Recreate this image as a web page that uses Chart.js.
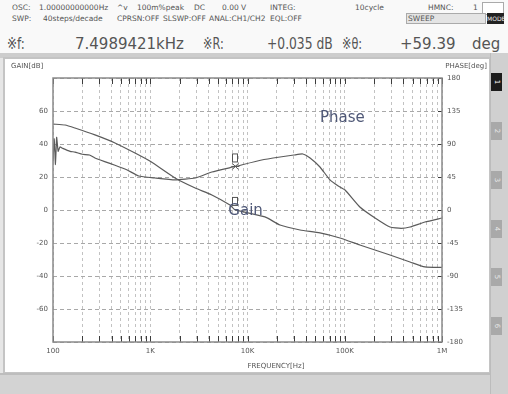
<!DOCTYPE html>
<html>
<head>
<meta charset="utf-8">
<script src="https://cdn.jsdelivr.net/npm/chart.js@4"></script>
<style>
html,body{margin:0;padding:0;}
body{width:508px;height:394px;position:relative;overflow:hidden;background:#e6e6e6;font-family:"DejaVu Sans",sans-serif;color:#5a5a5a;}
#head{position:absolute;left:0;top:0;width:508px;height:53px;background:#f9f9f9;}
#sep{position:absolute;left:0;top:53px;width:490px;height:5px;background:#cdcdcd;}
#panel{position:absolute;left:3px;top:57px;width:484px;height:313px;background:#fff;border:2px solid #c4c4c4;}
#side{position:absolute;left:490px;top:53px;width:18px;height:341px;background:#d0d0d0;border-left:1px solid #bcbcbc;box-sizing:border-box;}
#foot{position:absolute;left:0;top:373px;width:490px;height:21px;background:#d3d3d3;border-top:2px solid #bdbdbd;box-sizing:border-box;}
.t{position:absolute;white-space:nowrap;font-size:7.5px;line-height:10px;color:#555;}
.b{position:absolute;white-space:nowrap;font-size:15px;line-height:16px;color:#555;transform-origin:0 50%;}
.tab{position:absolute;left:491px;width:11px;height:18px;background:#a9a9a9;color:#e8e8e8;font-size:7px;}
.tab span{position:absolute;left:50%;top:50%;transform:translate(-50%,-50%) rotate(90deg);}
canvas{position:absolute;left:0;top:0;}
</style>
</head>
<body>
<div id="head"></div>
<div id="sep"></div>
<div id="panel"></div>
<div id="side"></div>
<div id="foot"></div>

<div class="t" style="left:12px;top:3px">OSC:</div>
<div class="t" style="left:39px;top:3px">1.00000000000Hz</div>
<div class="t" style="left:117px;top:3px">^v</div>
<div class="t" style="left:137px;top:3px">100m%peak</div>
<div class="t" style="left:194px;top:3px">DC</div>
<div class="t" style="left:222px;top:3px">0.00 V</div>
<div class="t" style="left:270px;top:3px">INTEG:</div>
<div class="t" style="left:355px;top:3px">10cycle</div>
<div class="t" style="left:428px;top:3px">HMNC:</div>
<div class="t" style="left:473px;top:3px">1</div>
<div style="position:absolute;left:482px;top:2px;width:20px;height:11px;background:#fff;border:1px solid #aaa;"></div>

<div class="t" style="left:12px;top:14px">SWP:</div>
<div class="t" style="left:43px;top:14px">40steps/decade</div>
<div class="t" style="left:117px;top:14px">CPRSN:OFF</div>
<div class="t" style="left:163px;top:14px">SLSWP:OFF</div>
<div class="t" style="left:209px;top:14px">ANAL:CH1/CH2</div>
<div class="t" style="left:270px;top:14px">EQL:OFF</div>
<div style="position:absolute;left:406px;top:13px;width:80px;height:11px;background:#e4e4e4;border:1px solid #aaa;box-sizing:border-box;"></div>
<div class="t" style="left:408px;top:14px">SWEEP</div>
<div class="t" style="left:487px;top:13px;width:17px;height:11px;background:#222;color:#eee;font-size:6px;line-height:11px;text-align:center;">MODE</div>

<div class="b" style="left:7px;top:36px;transform:scaleX(0.8)">※f:</div>
<div class="b" style="left:75px;top:36px">7.4989421kHz</div>
<div class="b" style="left:203px;top:36px;transform:scaleX(0.75)">※R:</div>
<div class="b" style="left:267px;top:36px;transform:scaleX(0.82)">+0.035 dB</div>
<div class="b" style="left:342px;top:36px;transform:scaleX(0.75)">※θ:</div>
<div class="b" style="left:400px;top:36px">+59.39</div>
<div class="b" style="left:472px;top:36px">deg</div>

<div class="tab" style="top:73px;background:#1c1c1c;color:#fff"><span>1</span></div>
<div class="tab" style="top:122px"><span>2</span></div>
<div class="tab" style="top:171px"><span>3</span></div>
<div class="tab" style="top:220px"><span>4</span></div>
<div class="tab" style="top:268px"><span>5</span></div>
<div class="tab" style="top:317px"><span>6</span></div>

<canvas id="c" width="508" height="394"></canvas>

<script>
// Frequency response sweep: gain (dB) and phase (deg) versus frequency (Hz)
const gainFreq = [100, 133, 168, 270, 434, 697, 1000, 1800, 2900, 4300, 6600, 7490, 15100, 21600, 34700, 55600, 89300, 143000, 292000, 469000, 668000, 1000000];
const gainDb   = [52.1, 51.5, 49.7, 45.5, 40.6, 34.5, 29.5, 19.4, 13.3, 9.1, 3.0, 0.035, -4.2, -9.1, -12.1, -13.9, -17.0, -21.2, -27.3, -31.5, -34.5, -34.8];

const phaseFreq = [100, 103, 106, 109, 113, 118, 126, 150, 168, 200, 237, 270, 340, 434, 580, 760, 1119, 1800, 2900, 4300, 7490, 14000, 21600, 30000, 37000, 44000, 55600, 70500, 85000, 100700, 143000, 205000, 292000, 380000, 469000, 668000, 1000000];
const phaseDeg  = [66, 97, 62, 99, 80, 86, 84, 80, 79, 76, 75, 71, 66, 61, 54.5, 46.4, 43.6, 41, 43.6, 51.8, 59.39, 68.2, 72.3, 75, 76.4, 70.9, 58.6, 41, 33, 27.3, 4.1, -10.9, -23.2, -25, -23.2, -16.4, -10.9];

// Cursor readout
const cursorFreq = 7498.9421;
const cursorGain = 0.035;
const cursorPhase = 59.39;

const freqTicks = [];
for (let d = 100; d < 1000000; d *= 10) {
  for (let m = 1; m <= 9; m++) freqTicks.push(d * m);
}
freqTicks.push(1000000);
const freqLabels = {100: '100', 1000: '1K', 10000: '10K', 100000: '100K', 1000000: '1M'};

const gainTicks = [-80, -60, -40, -20, 0, 20, 40, 60, 80];
const phaseTicks = [-180, -135, -90, -45, 0, 45, 90, 135, 180];

const lineColor = '#5b5b5b';
const tickFont = {family: 'DejaVu Sans', size: 7};

const decor = {
  id: 'decor',
  afterDatasetsDraw(chart) {
    const {ctx, chartArea: a, scales} = chart;
    const x = scales.x, y = scales.y, y1 = scales.y1;
    ctx.save();
    // inner tick marks on the frequency axis (top and bottom)
    ctx.strokeStyle = '#3c3c3c';
    ctx.lineWidth = 1;
    freqTicks.forEach(v => {
      const px = Math.round(x.getPixelForValue(v)) + 0.5;
      ctx.beginPath();
      ctx.moveTo(px, a.bottom); ctx.lineTo(px, a.bottom - 6);
      ctx.moveTo(px, a.top); ctx.lineTo(px, a.top + 6);
      ctx.stroke();
    });
    // inner tick marks on the phase axis
    phaseTicks.forEach(v => {
      const py = Math.round(y1.getPixelForValue(v)) + 0.5;
      ctx.beginPath();
      ctx.moveTo(a.right - 4, py); ctx.lineTo(a.right, py);
      ctx.stroke();
    });
    // plot frame
    ctx.strokeStyle = '#8a8a8a';
    ctx.lineWidth = 1.5;
    ctx.strokeRect(a.left, a.top, a.right - a.left, a.bottom - a.top);

    // cursor markers
    const cx = x.getPixelForValue(cursorFreq);
    const marks = [y1.getPixelForValue(cursorPhase), y.getPixelForValue(cursorGain)];
    ctx.strokeStyle = '#555';
    ctx.lineWidth = 1;
    marks.forEach((py, i) => {
      ctx.strokeRect(Math.round(cx) - 2.5, py - 12.5, 5, 8);
      if (i === 0) {
        ctx.beginPath();
        ctx.moveTo(cx - 3, py - 3); ctx.lineTo(cx + 3, py + 3);
        ctx.moveTo(cx + 3, py - 3); ctx.lineTo(cx - 3, py + 3);
        ctx.moveTo(cx - 4, py); ctx.lineTo(cx + 4, py);
        ctx.stroke();
      }
    });

    // curve names
    ctx.font = '15px "DejaVu Sans"';
    ctx.fillStyle = '#4f5877';
    ctx.textBaseline = 'middle';
    ctx.textAlign = 'left';
    ctx.fillText('Phase', 320, 118);
    ctx.fillText('Gain', cx - 7, marks[1] + 1);

    // axis titles
    ctx.font = '7px "DejaVu Sans"';
    ctx.fillStyle = '#555';
    ctx.textAlign = 'left';
    ctx.fillText('GAIN[dB]', 11, 66);
    ctx.textAlign = 'right';
    ctx.fillText('PHASE[deg]', 487, 66);
    ctx.textAlign = 'center';
    ctx.fillText('FREQUENCY[Hz]', 276, 366);
    ctx.restore();
  }
};

new Chart(document.getElementById('c'), {
  type: 'line',
  data: {
    datasets: [
      {
        label: 'Gain',
        data: gainFreq.map((f, i) => ({x: f, y: gainDb[i]})),
        yAxisID: 'y',
        borderColor: lineColor,
        borderWidth: 1.2,
        pointRadius: 0,
        tension: 0.2
      },
      {
        label: 'Phase',
        data: phaseFreq.map((f, i) => ({x: f, y: phaseDeg[i]})),
        yAxisID: 'y1',
        borderColor: lineColor,
        borderWidth: 1.2,
        pointRadius: 0,
        tension: 0.15
      }
    ]
  },
  options: {
    responsive: false,
    animation: false,
    events: [],
    layout: {padding: {top: 78, left: 0, right: 0, bottom: 0}},
    plugins: {legend: {display: false}, tooltip: {enabled: false}},
    scales: {
      x: {
        type: 'logarithmic',
        min: 100, max: 1000000,
        afterFit: s => { s.height = 52; },
        afterBuildTicks: s => { s.ticks = freqTicks.map(v => ({value: v})); },
        border: {display: false, dash: [3, 3]},
        grid: {color: '#c2c2c2', drawTicks: false, lineWidth: 1},
        ticks: {
          autoSkip: false, maxRotation: 0, padding: 5,
          font: tickFont, color: '#555',
          callback: v => freqLabels[v] || ''
        }
      },
      y: {
        position: 'left',
        min: -80, max: 80,
        afterFit: s => { s.width = 53; },
        afterBuildTicks: s => { s.ticks = gainTicks.map(v => ({value: v})); },
        border: {display: false, dash: [4, 3]},
        grid: {color: '#a8a8a8', drawTicks: false, lineWidth: 1},
        ticks: {
          padding: 5, font: tickFont, color: '#555',
          callback: v => (Math.abs(v) === 80 ? '' : String(v))
        }
      },
      y1: {
        position: 'right',
        min: -180, max: 180,
        afterFit: s => { s.width = 66; },
        afterBuildTicks: s => { s.ticks = phaseTicks.map(v => ({value: v})); },
        border: {display: false},
        grid: {display: false, drawTicks: false},
        ticks: {
          padding: 5, font: tickFont, color: '#555',
          callback: v => String(v)
        }
      }
    }
  },
  plugins: [decor]
});
</script>
</body>
</html>
